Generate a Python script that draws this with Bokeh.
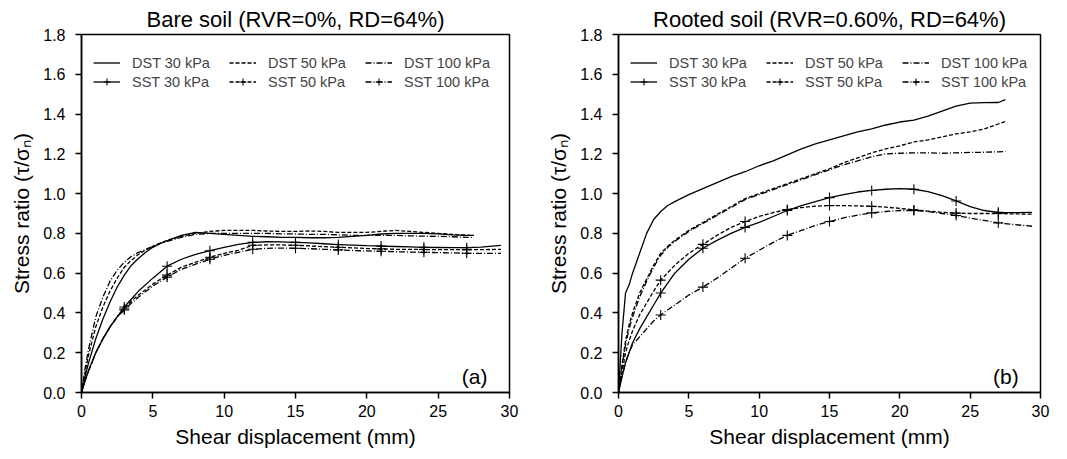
from bokeh.plotting import figure
from bokeh.models import Legend, LegendItem, FixedTicker, Label, Range1d, NumeralTickFormatter
from bokeh.layouts import row
from bokeh.embed import file_html
from bokeh.resources import INLINE

# ---------------- data: bare soil (a) ----------------
a_x_dst = [0, 0.25, 0.5, 1, 1.5, 2, 2.5, 3, 3.5, 4, 4.5, 5, 5.5, 6, 7, 8, 9, 10, 11, 12,
           13, 14, 15, 16, 17, 18, 19, 20, 21, 22, 23, 24, 25, 26, 27, 27.5]
a_dst30 = [0, 0.08, 0.15, 0.27, 0.37, 0.455, 0.53, 0.59, 0.64, 0.675, 0.705, 0.73, 0.748, 0.763,
           0.79, 0.805, 0.80, 0.795, 0.79, 0.785, 0.783, 0.78, 0.78, 0.778, 0.778, 0.78, 0.785,
           0.79, 0.797, 0.80, 0.80, 0.80, 0.798, 0.793, 0.79, 0.79]
a_dst50 = [0, 0.1, 0.19, 0.33, 0.43, 0.51, 0.575, 0.63, 0.665, 0.695, 0.717, 0.735, 0.75, 0.765,
           0.785, 0.80, 0.81, 0.815, 0.815, 0.815, 0.812, 0.81, 0.81, 0.812, 0.81, 0.805, 0.805,
           0.805, 0.81, 0.815, 0.81, 0.805, 0.80, 0.795, 0.79, 0.79]
a_dst100 = [0, 0.12, 0.22, 0.38, 0.48, 0.56, 0.615, 0.655, 0.685, 0.705, 0.72, 0.735, 0.75, 0.76,
            0.78, 0.795, 0.80, 0.80, 0.80, 0.80, 0.80, 0.798, 0.797, 0.795, 0.795, 0.793, 0.79,
            0.79, 0.79, 0.79, 0.788, 0.786, 0.785, 0.783, 0.78, 0.78]

a_x_sst = [0, 0.25, 0.5, 1, 1.5, 2, 2.5, 3, 3.5, 4, 5, 6, 7, 8, 9, 10, 11, 12, 13, 14, 15,
           16, 17, 18, 19, 20, 21, 22, 23, 24, 25, 26, 27, 28, 29.4]
a_sst30 = [0, 0.06, 0.11, 0.2, 0.27, 0.33, 0.38, 0.43, 0.47, 0.51, 0.575, 0.635, 0.67, 0.695,
           0.713, 0.73, 0.745, 0.755, 0.758, 0.757, 0.755, 0.752, 0.748, 0.744, 0.741, 0.738,
           0.736, 0.734, 0.732, 0.73, 0.729, 0.728, 0.728, 0.731, 0.74]
a_sst50 = [0, 0.06, 0.11, 0.2, 0.27, 0.33, 0.38, 0.42, 0.46, 0.49, 0.545, 0.59, 0.63, 0.655,
           0.68, 0.70, 0.715, 0.74, 0.742, 0.742, 0.74, 0.737, 0.733, 0.73, 0.727, 0.724,
           0.722, 0.72, 0.72, 0.719, 0.718, 0.718, 0.718, 0.718, 0.72]
a_sst100 = [0, 0.06, 0.11, 0.2, 0.27, 0.33, 0.38, 0.415, 0.45, 0.48, 0.535, 0.58, 0.62, 0.645,
            0.67, 0.69, 0.705, 0.72, 0.725, 0.726, 0.725, 0.723, 0.72, 0.717, 0.714, 0.712,
            0.71, 0.708, 0.706, 0.705, 0.703, 0.702, 0.70, 0.70, 0.70]

# ---------------- data: rooted soil (b) ----------------
b_x_dst = [0, 0.25, 0.5, 0.75, 1, 1.5, 2, 2.5, 3, 3.5, 4, 5, 6, 7, 8, 9, 10, 11, 12, 13, 14,
           15, 16, 17, 18, 19, 20, 21, 22, 23, 24, 25, 26, 27, 27.5]
b_dst30 = [0, 0.3, 0.5, 0.54, 0.6, 0.7, 0.8, 0.87, 0.91, 0.94, 0.96, 0.995, 1.025, 1.055,
           1.085, 1.11, 1.14, 1.165, 1.195, 1.225, 1.25, 1.27, 1.29, 1.31, 1.325, 1.345, 1.36,
           1.37, 1.39, 1.415, 1.44, 1.455, 1.457, 1.458, 1.473]
b_dst50 = [0, 0.14, 0.26, 0.34, 0.4, 0.5, 0.57, 0.64, 0.7, 0.735, 0.765, 0.815, 0.855, 0.895,
           0.935, 0.975, 1.0, 1.025, 1.05, 1.075, 1.1, 1.125, 1.155, 1.18, 1.205, 1.225, 1.24,
           1.26, 1.27, 1.285, 1.3, 1.31, 1.325, 1.35, 1.362]
b_dst100 = [0, 0.13, 0.24, 0.32, 0.38, 0.48, 0.56, 0.63, 0.69, 0.73, 0.76, 0.81, 0.85, 0.89,
            0.93, 0.97, 0.995, 1.02, 1.045, 1.07, 1.095, 1.12, 1.145, 1.165, 1.185, 1.2, 1.203,
            1.205, 1.205, 1.203, 1.205, 1.207, 1.208, 1.21, 1.212]

b_x_sst = [0, 0.25, 0.5, 0.75, 1, 1.5, 2, 2.5, 3, 4, 5, 6, 7, 8, 9, 10, 11, 12, 13, 14, 15,
           16, 17, 18, 19, 20, 21, 22, 23, 24, 25, 26, 27, 28, 29.4]
b_sst30 = [0, 0.08, 0.15, 0.2, 0.25, 0.32, 0.38, 0.44, 0.5, 0.6, 0.67, 0.725, 0.765, 0.8, 0.83,
           0.855, 0.885, 0.915, 0.94, 0.96, 0.98, 0.995, 1.008, 1.016, 1.022, 1.025, 1.022,
           1.01, 0.99, 0.963, 0.935, 0.915, 0.906, 0.904, 0.906]
b_sst50 = [0, 0.1, 0.2, 0.26, 0.31, 0.39, 0.45, 0.51, 0.565, 0.64, 0.7, 0.745, 0.79, 0.83,
           0.86, 0.885, 0.905, 0.92, 0.93, 0.937, 0.94, 0.94, 0.938, 0.936, 0.932, 0.926, 0.918,
           0.912, 0.906, 0.902, 0.9, 0.9, 0.9, 0.898, 0.897]
b_sst100 = [0, 0.08, 0.15, 0.2, 0.24, 0.28, 0.32, 0.36, 0.39, 0.44, 0.49, 0.53, 0.575, 0.625,
            0.675, 0.715, 0.755, 0.79, 0.815, 0.84, 0.86, 0.878, 0.892, 0.903, 0.91, 0.915,
            0.915, 0.91, 0.9, 0.89, 0.877, 0.865, 0.853, 0.845, 0.836]

x_ticks = [0, 5, 10, 15, 20, 25, 30]
y_ticks = [0.0, 0.2, 0.4, 0.6, 0.8, 1.0, 1.2, 1.4, 1.6, 1.8]
labels_dst = ["DST 30 kPa", "DST 50 kPa", "DST 100 kPa"]
labels_sst = ["SST 30 kPa", "SST 50 kPa", "SST 100 kPa"]
dashes = ["solid", "4 2", "6 2 1 2"]

FONT = "Liberation Sans"


def make_panel(title, tag, x_dst, dst, x_sst, sst, frame_w, bl, br):
    p = figure(frame_width=frame_w, frame_height=358, output_backend="svg",
               toolbar_location=None, x_range=Range1d(0, 30), y_range=Range1d(0, 1.8),
               min_border_left=bl, min_border_right=br, min_border_top=34,
               min_border_bottom=62)
    p.title.text = title
    p.title.align = "center"
    p.title.text_font = FONT
    p.title.text_font_size = "22px"
    p.title.text_font_style = "normal"
    p.title.text_color = "black"
    p.title.standoff = 6
    p.xgrid.visible = False
    p.ygrid.visible = False
    p.outline_line_color = "black"
    p.outline_line_width = 1.5
    p.outline_line_alpha = 1.0
    p.background_fill_color = "white"
    p.border_fill_color = "white"

    for ax in (p.xaxis[0], p.yaxis[0]):
        ax.axis_line_width = 1.5
        ax.axis_line_color = "black"
        ax.major_tick_line_color = "black"
        ax.major_tick_line_width = 1.5
        ax.major_tick_in = 0
        ax.major_tick_out = 6
        ax.minor_tick_line_color = None
        ax.major_label_text_font = FONT
        ax.major_label_text_font_size = "16px"
        ax.major_label_text_color = "black"
        ax.axis_label_text_font = FONT
        ax.axis_label_text_font_size = "21px"
        ax.axis_label_text_font_style = "normal"
        ax.axis_label_text_color = "black"
    p.xaxis.ticker = FixedTicker(ticks=x_ticks)
    p.yaxis.ticker = FixedTicker(ticks=y_ticks)
    p.yaxis.formatter = NumeralTickFormatter(format="0.0")
    p.xaxis.axis_label = "Shear displacement (mm)"
    p.yaxis.axis_label = "Stress ratio (τ/σₙ)"
    p.xaxis.major_label_standoff = 6
    p.xaxis.axis_label_standoff = 5
    p.yaxis.major_label_standoff = 10
    p.yaxis.axis_label_standoff = 7

    items = []
    for i in range(3):
        lr = p.line(x_dst, dst[i], line_color="black", line_width=1.3, line_dash=dashes[i])
        items.append(LegendItem(label=labels_dst[i], renderers=[lr]))
        sr = p.line(x_sst, sst[i], line_color="black", line_width=1.3, line_dash=dashes[i])
        keep = [k for k, x in enumerate(x_sst)
                if 0 < x <= 27 and abs(x / 3 - round(x / 3)) < 1e-9]
        mx = [x_sst[k] for k in keep]
        my = [sst[i][k] for k in keep]
        mr = p.scatter(mx, my, marker="cross", size=10, line_color="black", line_width=1.1)
        items.append(LegendItem(label=labels_sst[i], renderers=[sr, mr]))

    legend = Legend(items=items, location=(12, 302), orientation="vertical", nrows=2,
                    border_line_alpha=0, background_fill_alpha=0,
                    label_text_font=FONT, label_text_font_size="14.5px",
                    glyph_width=27, glyph_height=17, label_height=17, label_standoff=12,
                    label_width=95, spacing=2, padding=0, margin=0)
    p.add_layout(legend)

    p.add_layout(Label(x=28.45, y=0.08, text=tag, text_align="right",
                       text_baseline="middle", text_font=FONT, text_font_size="21px",
                       text_color="black"))
    return p


p1 = make_panel("Bare soil (RVR=0%, RD=64%)", "(a)", a_x_dst,
                [a_dst30, a_dst50, a_dst100], a_x_sst, [a_sst30, a_sst50, a_sst100],
                428, 81, 29)
p2 = make_panel("Rooted soil (RVR=0.60%, RD=64%)", "(b)", b_x_dst,
                [b_dst30, b_dst50, b_dst100], b_x_sst, [b_sst30, b_sst50, b_sst100],
                422, 80, 25)

layout = row(p1, p2)
open("out.html", "w").write(file_html(layout, INLINE))
